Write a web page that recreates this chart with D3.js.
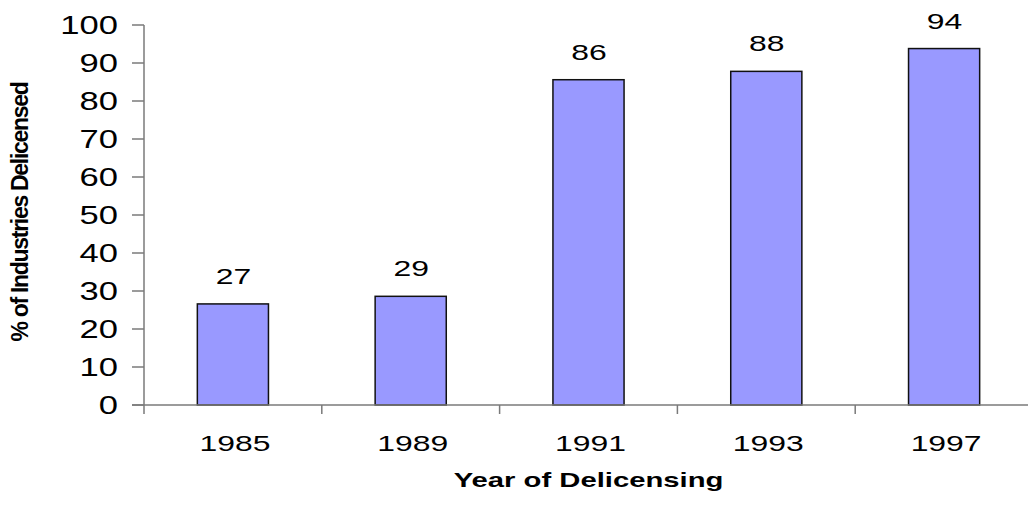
<!DOCTYPE html>
<html>
<head>
<meta charset="utf-8">
<script src="https://cdn.jsdelivr.net/npm/d3@7"></script>
<style>
  body { margin: 0; background: #fff; }
  text { font-family: "Liberation Sans", Arial, sans-serif; fill: #000; }
</style>
</head>
<body>
<div id="container"></div>
<script>
var width = 1028, height = 506;

// data
const years = ["1985", "1989", "1991", "1993", "1997"];
const shares = [26.6, 28.6, 85.6, 87.8, 93.8];
const shareLabels = ["27", "29", "86", "88", "94"];
const yTicks = [0, 10, 20, 30, 40, 50, 60, 70, 80, 90, 100];

const bars = years.map((y, i) => ({ year: y, value: shares[i], label: shareLabels[i] }));

// plot area (note: "top" is taken by window.top)
var plotLeft = 144, plotRight = 1033, plotTop = 25, plotBottom = 405;

const x = d3.scaleBand().domain(years).range([plotLeft, plotRight])
    .paddingInner(0.6).paddingOuter(0.3);
const edges = d3.scaleLinear().domain([0, years.length]).range([plotLeft, plotRight]);
const y = d3.scaleLinear().domain([0, 100]).range([plotBottom, plotTop]);

const svg = d3.select("div#container").append("svg")
    .attr("width", width)
    .attr("height", height);

// stretched text, like the old export
function wideText(g, tx, ty, txt, size, sx, anchor, weight) {
    return g.append("text")
        .attr("transform", "translate(" + tx + "," + ty + ") scale(" + sx + ",1)")
        .attr("text-anchor", anchor)
        .attr("font-size", size)
        .attr("font-weight", weight || "normal")
        .text(txt);
}

const axisColor = "#7a7a7a";

// y axis
const yAxis = svg.append("g");
yAxis.append("line")
    .attr("x1", plotLeft).attr("x2", plotLeft)
    .attr("y1", y(100)).attr("y2", y(0))
    .attr("stroke", axisColor).attr("stroke-width", 1.5);
yTicks.forEach(t => {
    yAxis.append("line")
        .attr("x1", plotLeft - 12).attr("x2", plotLeft)
        .attr("y1", y(t)).attr("y2", y(t))
        .attr("stroke", axisColor).attr("stroke-width", 1.5);
    wideText(yAxis, 118, y(t) + 8.5, t, 26, 1.33, "end");
});

// bars
svg.append("g")
    .selectAll("rect")
    .data(bars)
    .join("rect")
    .attr("x", d => x(d.year))
    .attr("y", d => y(d.value))
    .attr("width", x.bandwidth())
    .attr("height", d => y(0) - y(d.value))
    .attr("fill", "#9999ff")
    .attr("stroke", "#111")
    .attr("stroke-width", 1.5);

// value labels
const labels = svg.append("g");
bars.forEach(d => {
    wideText(labels, x(d.year) + x.bandwidth() / 2 + 0.5, y(d.value) - 20, d.label, 22, 1.45, "middle");
});

// x axis
const xAxis = svg.append("g");
xAxis.append("line")
    .attr("x1", plotLeft - 12).attr("x2", plotRight)
    .attr("y1", y(0)).attr("y2", y(0))
    .attr("stroke", axisColor).attr("stroke-width", 1.5);
d3.range(years.length + 1).forEach(i => {
    xAxis.append("line")
        .attr("x1", edges(i)).attr("x2", edges(i))
        .attr("y1", y(0)).attr("y2", y(0) + 9)
        .attr("stroke", axisColor).attr("stroke-width", 1.5);
});
years.forEach(yr => {
    wideText(xAxis, x(yr) + x.bandwidth() / 2 + 2, 450.5, yr, 22, 1.45, "middle");
});

// titles
wideText(svg, (plotLeft + plotRight) / 2, 486.5, "Year of Delicensing", 19.5, 1.5, "middle", "bold");

svg.append("text")
    .attr("transform", "translate(28,212) rotate(-90)")
    .attr("text-anchor", "middle")
    .attr("font-size", 23)
    .attr("font-weight", "bold")
    .attr("letter-spacing", -1.3)
    .text("% of Industries Delicensed");
</script>
</body>
</html>
